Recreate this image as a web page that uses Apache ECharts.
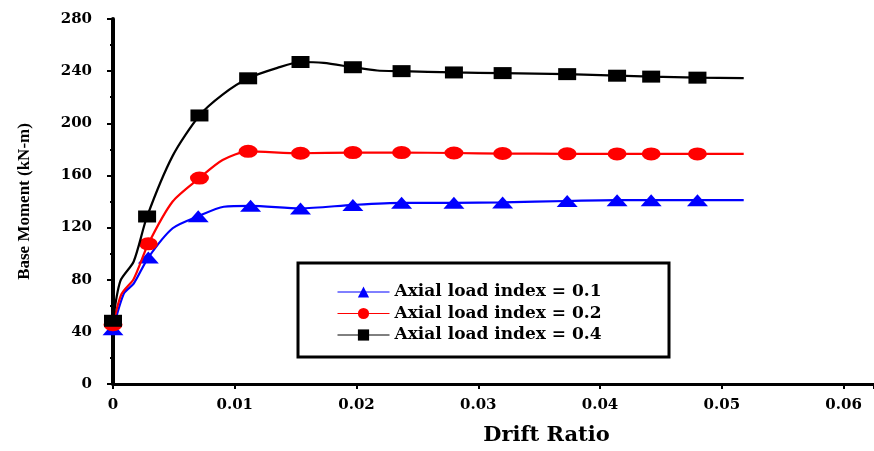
<!DOCTYPE html>
<html>
<head>
<meta charset="utf-8">
<script src="https://cdn.jsdelivr.net/npm/echarts@6/dist/echarts.min.js"></script>
<style>
  html, body { margin: 0; padding: 0; background: #fff; }
  #chart { width: 874px; height: 451px; }
</style>
</head>
<body>
<div id="chart"></div>
<script>
// ---- data ----
const seriesNames = ['Axial load index = 0.1', 'Axial load index = 0.2', 'Axial load index = 0.4'];

// Axial load index = 0.1 (blue triangles)
const drift01  = [0, 0.0009, 0.0017, 0.0029, 0.0049, 0.0070, 0.0091, 0.0113, 0.0154, 0.0197, 0.0237, 0.0280, 0.0320, 0.0373, 0.0414, 0.0442, 0.0480, 0.0518];
const moment01 = [42, 69.5, 77, 97, 119.5, 128.7, 136, 136.7, 134.7, 137.4, 139, 139, 139.3, 140.4, 141, 141, 141, 141];
const marked01 = [1, 0, 0, 1, 0, 1, 0, 1, 1, 1, 1, 1, 1, 1, 1, 1, 1, 0];

// Axial load index = 0.2 (red circles)
const drift02  = [0, 0.0007, 0.0017, 0.0029, 0.0049, 0.0071, 0.0090, 0.0111, 0.0154, 0.0197, 0.0237, 0.0280, 0.0320, 0.0373, 0.0414, 0.0442, 0.0480, 0.0518];
const moment02 = [45.5, 69, 80.6, 107.5, 140, 158, 171.8, 178.5, 177, 177.5, 177.5, 177.2, 176.8, 176.6, 176.5, 176.5, 176.5, 176.5];
const marked02 = [1, 0, 0, 1, 0, 1, 0, 1, 1, 1, 1, 1, 1, 1, 1, 1, 1, 0];

// Axial load index = 0.4 (black squares)
const drift04  = [0, 0.0006, 0.0017, 0.0028, 0.0049, 0.0071, 0.0090, 0.0111, 0.0135, 0.0154, 0.0173, 0.0197, 0.0217, 0.0237, 0.0280, 0.0320, 0.0373, 0.0414, 0.0442, 0.0480, 0.0518];
const moment04 = [48.5, 79, 94, 128.5, 175, 206, 222, 234.5, 242.5, 247, 246.3, 243, 240.5, 240, 239, 238.5, 237.7, 236.5, 235.8, 235, 234.7];
const marked04 = [1, 0, 0, 1, 0, 1, 0, 1, 0, 1, 0, 1, 0, 1, 1, 1, 1, 1, 1, 1, 0];

const xTicks = [0, 0.01, 0.02, 0.03, 0.04, 0.05, 0.06];
const yTicks = [0, 40, 80, 120, 160, 200, 240, 280];
const xTitle = 'Drift Ratio';
const yTitle = 'Base Moment (kN-m)';

// ---- build ----
function pts(xs, ys, marks) {
  return xs.map((x, i) => {
    const item = { value: [x, ys[i]] };
    if (!marks[i]) item.symbol = 'none';
    return item;
  });
}

const tickFont = { fontFamily: 'DejaVu Serif', fontWeight: 'bold', fontSize: 15, color: '#000' };

const chart = echarts.init(document.getElementById('chart'), null, { renderer: 'canvas' });
chart.setOption({
  backgroundColor: '#fff',
  animation: false,
  grid: { left: 113, right: 0, top: 19, bottom: 58.7, containLabel: false },
  xAxis: {
    type: 'value',
    min: xTicks[0],
    max: 0.0625,
    interval: 0.01,
    name: xTitle,
    nameLocation: 'middle',
    nameGap: 41,
    nameTextStyle: { fontFamily: 'DejaVu Serif', fontWeight: 'bold', fontSize: 21, color: '#000', padding: [0, 0, 0, 106] },
    axisLine: { lineStyle: { color: '#000', width: 3 } },
    axisTick: { show: true, inside: false, length: 5, lineStyle: { color: '#000', width: 2 } },
    minorTick: { show: true, splitNumber: 2, length: 2, lineStyle: { color: '#000', width: 2 } },
    axisLabel: {
      ...tickFont,
      margin: 14,
      showMaxLabel: false,
      formatter: v => (xTicks.indexOf(Math.round(v * 1000) / 1000) >= 0 ? String(Math.round(v * 1000) / 1000) : '')
    },
    splitLine: { show: false }
  },
  yAxis: {
    type: 'value',
    min: yTicks[0],
    max: yTicks[yTicks.length - 1],
    interval: 40,
    name: yTitle,
    nameLocation: 'middle',
    nameGap: 80,
    nameRotate: 90,
    nameTextStyle: { fontFamily: 'Liberation Serif', fontWeight: 'bold', fontSize: 17, color: '#000' },
    axisLine: { lineStyle: { color: '#000', width: 4 } },
    axisTick: { show: true, inside: false, length: 6, lineStyle: { color: '#000', width: 2 } },
    minorTick: { show: true, splitNumber: 2, length: 3, lineStyle: { color: '#000', width: 2 } },
    axisLabel: { ...tickFont, margin: 21 },
    splitLine: { show: false }
  },
  legend: {
    orient: 'vertical',
    left: 337,
    top: 283,
    padding: 0,
    itemWidth: 52,
    itemHeight: 14,
    itemGap: 3.5,
    lineStyle: { width: 1 },
    textStyle: { fontFamily: 'DejaVu Serif', fontWeight: 'bold', fontSize: 17, lineHeight: 18, color: '#000' },
    data: seriesNames
  },
  graphic: [{
    type: 'rect',
    shape: { x: 298, y: 263, width: 371, height: 94 },
    style: { fill: 'transparent', stroke: '#000', lineWidth: 3 },
    z: 10,
    silent: true
  }],
  series: [
    {
      name: seriesNames[0], type: 'line', smooth: 0.25,
      symbol: 'triangle', symbolSize: [21, 12],
      data: pts(drift01, moment01, marked01),
      itemStyle: { color: '#0000FF' },
      lineStyle: { color: '#0000FF', width: 2.2 },
      z: 3
    },
    {
      name: seriesNames[1], type: 'line', smooth: 0.25,
      symbol: 'circle', symbolSize: [19, 13],
      data: pts(drift02, moment02, marked02),
      itemStyle: { color: '#FF0000' },
      lineStyle: { color: '#FF0000', width: 2.2 },
      z: 4
    },
    {
      name: seriesNames[2], type: 'line', smooth: 0.25,
      symbol: 'rect', symbolSize: [18, 12],
      data: pts(drift04, moment04, marked04),
      itemStyle: { color: '#000000' },
      lineStyle: { color: '#000000', width: 2.2 },
      z: 5
    }
  ]
});
</script>
</body>
</html>
